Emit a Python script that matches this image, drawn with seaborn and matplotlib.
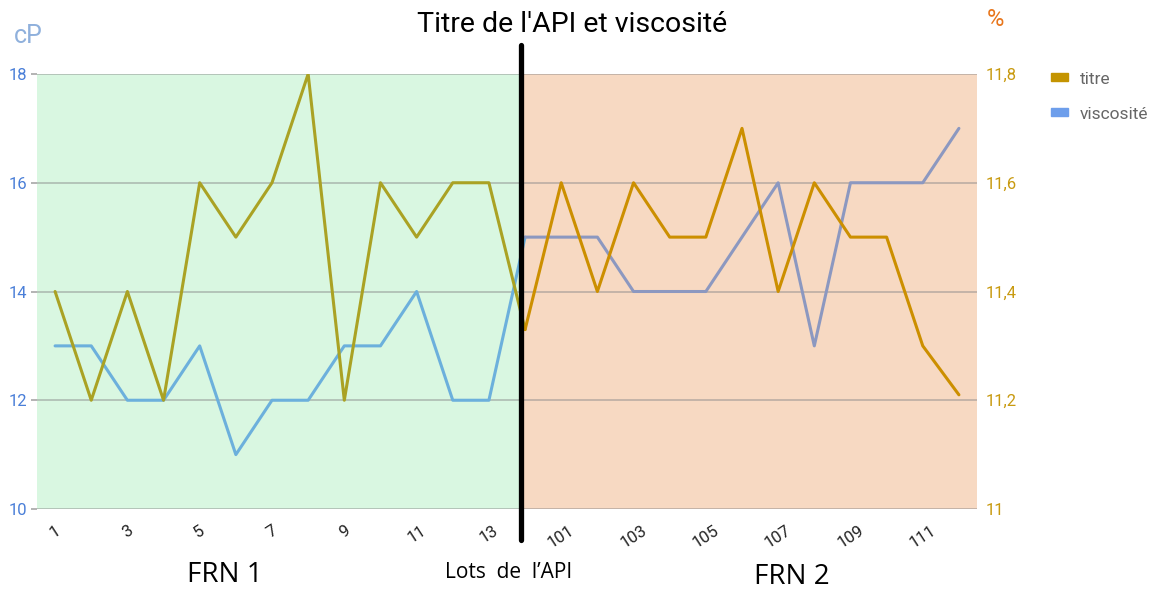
import pandas as pd
import matplotlib.pyplot as plt
import seaborn as sns
from matplotlib.patches import Patch

# lots d'API (le 14e point, à la frontière, n'a pas d'étiquette visible)
lots = ['1', '2', '3', '4', '5', '6', '7', '8', '9', '10', '11', '12', '13', '14',
        '101', '102', '103', '104', '105', '106', '107', '108', '109', '110', '111', '112']
titre = [11.4, 11.2, 11.4, 11.2, 11.6, 11.5, 11.6, 11.8, 11.2, 11.6, 11.5, 11.6, 11.6, 11.33,
         11.6, 11.4, 11.6, 11.5, 11.5, 11.7, 11.4, 11.6, 11.5, 11.5, 11.3, 11.21]
viscosite = [13, 13, 12, 12, 13, 11, 12, 12, 13, 13, 14, 12, 12, 15,
             15, 15, 14, 14, 14, 15, 16, 13, 16, 16, 16, 17]
n_frn1 = 14  # points 0..13 dessinés dans la partie FRN 1

df = pd.DataFrame({'pos': range(len(lots)), 'lot': lots,
                   'titre': titre, 'viscosite': viscosite})
df1 = df.iloc[:n_frn1].assign(frn='FRN 1')
df2 = df.iloc[n_frn1 - 1:].assign(frn='FRN 2')
dfl = pd.concat([df1, df2], ignore_index=True)

sns.set_theme(style='white')
plt.rcParams['font.family'] = ['Roboto', 'DejaVu Sans']

fig = plt.figure(figsize=(11.53, 5.91), dpi=100)
ax = fig.add_axes([37 / 1153, 1 - 509 / 591, 940 / 1153, 435 / 591])
ax2 = ax.twinx()

split = 12.89
ax.axvspan(-0.5, split, color='#d9f7e1', lw=0, zorder=0)
ax.axvspan(split, len(lots) - 0.5, color='#f7d9c2', lw=0, zorder=0)

sns.lineplot(data=dfl, x='pos', y='viscosite', hue='frn',
             palette={'FRN 1': '#6cb0dc', 'FRN 2': '#8c98c0'},
             lw=2.2, legend=False, ax=ax, zorder=3)
sns.lineplot(data=dfl, x='pos', y='titre', hue='frn',
             palette={'FRN 1': '#aaa224', 'FRN 2': '#cc8f00'},
             lw=2.2, legend=False, ax=ax2, zorder=3)

ax.set_xlim(-0.5, len(lots) - 0.5)
ax.set_ylim(10, 18)
ax.set_yticks([10, 12, 14, 16, 18])
ax2.set_ylim(11, 11.8)
ax2.set_yticks([11, 11.2, 11.4, 11.6, 11.8])
ax2.set_yticklabels(['11', '11,2', '11,4', '11,6', '11,8'])

ax.grid(axis='y', color='#8a8a8a', alpha=0.55, lw=1.2, zorder=1)
ax.set_axisbelow(False)
for a in (ax, ax2):
    for s in a.spines.values():
        s.set_visible(False)
    a.set_xlabel('')
    a.set_ylabel('')

ax.set_xticks(df['pos'][::2])
ax.set_xticklabels(df['lot'][::2], rotation=33, fontsize=12, color='#222222')
ax.tick_params(axis='x', length=0, pad=10)
ax.tick_params(axis='y', length=4, color='#aaaaaa', labelsize=12,
               labelcolor='#4a7fd8', pad=3)
ax2.tick_params(axis='y', length=0, labelsize=12, labelcolor='#c89a10', pad=6)

# séparation entre les deux fournisseurs
ax2.axvline(split, ymin=-0.071, ymax=1.067, color='black', lw=3.8,
            clip_on=False, zorder=10)

fig.text(572 / 1153, 1 - 25 / 591, "Titre de l'API et viscosité",
         ha='center', va='center', fontsize=20.5, color='black')
fig.text(28 / 1153, 1 - 36 / 591, 'cP', ha='center', va='center',
         fontsize=18, color='#8fb0dc')
fig.text(995 / 1153, 1 - 20 / 591, '%', ha='center', va='center',
         fontsize=17, color='#e8761c')

fig.text(225 / 1153, 1 - 575 / 591, 'FRN 1', ha='center', va='center',
         fontsize=20, family=['Open Sans', 'DejaVu Sans'], color='black')
fig.text(509 / 1153, 1 - 572 / 591, 'Lots  de  l’API', ha='center', va='center',
         fontsize=15, family=['Open Sans', 'DejaVu Sans'], color='black')
fig.text(792 / 1153, 1 - 577 / 591, 'FRN 2', ha='center', va='center',
         fontsize=20, family=['Open Sans', 'DejaVu Sans'], color='black')

handles = [Patch(color='#c49400', label='titre'),
           Patch(color='#6d9eeb', label='viscosité')]
fig.legend(handles=handles, loc='upper left',
           bbox_to_anchor=(1035 / 1153, 1 - 56 / 591), frameon=False,
           handlelength=1.0, handleheight=0.35, handletextpad=0.7,
           labelspacing=1.15, fontsize=12.5, labelcolor='#666666')

fig.savefig('out.png', dpi=100)
